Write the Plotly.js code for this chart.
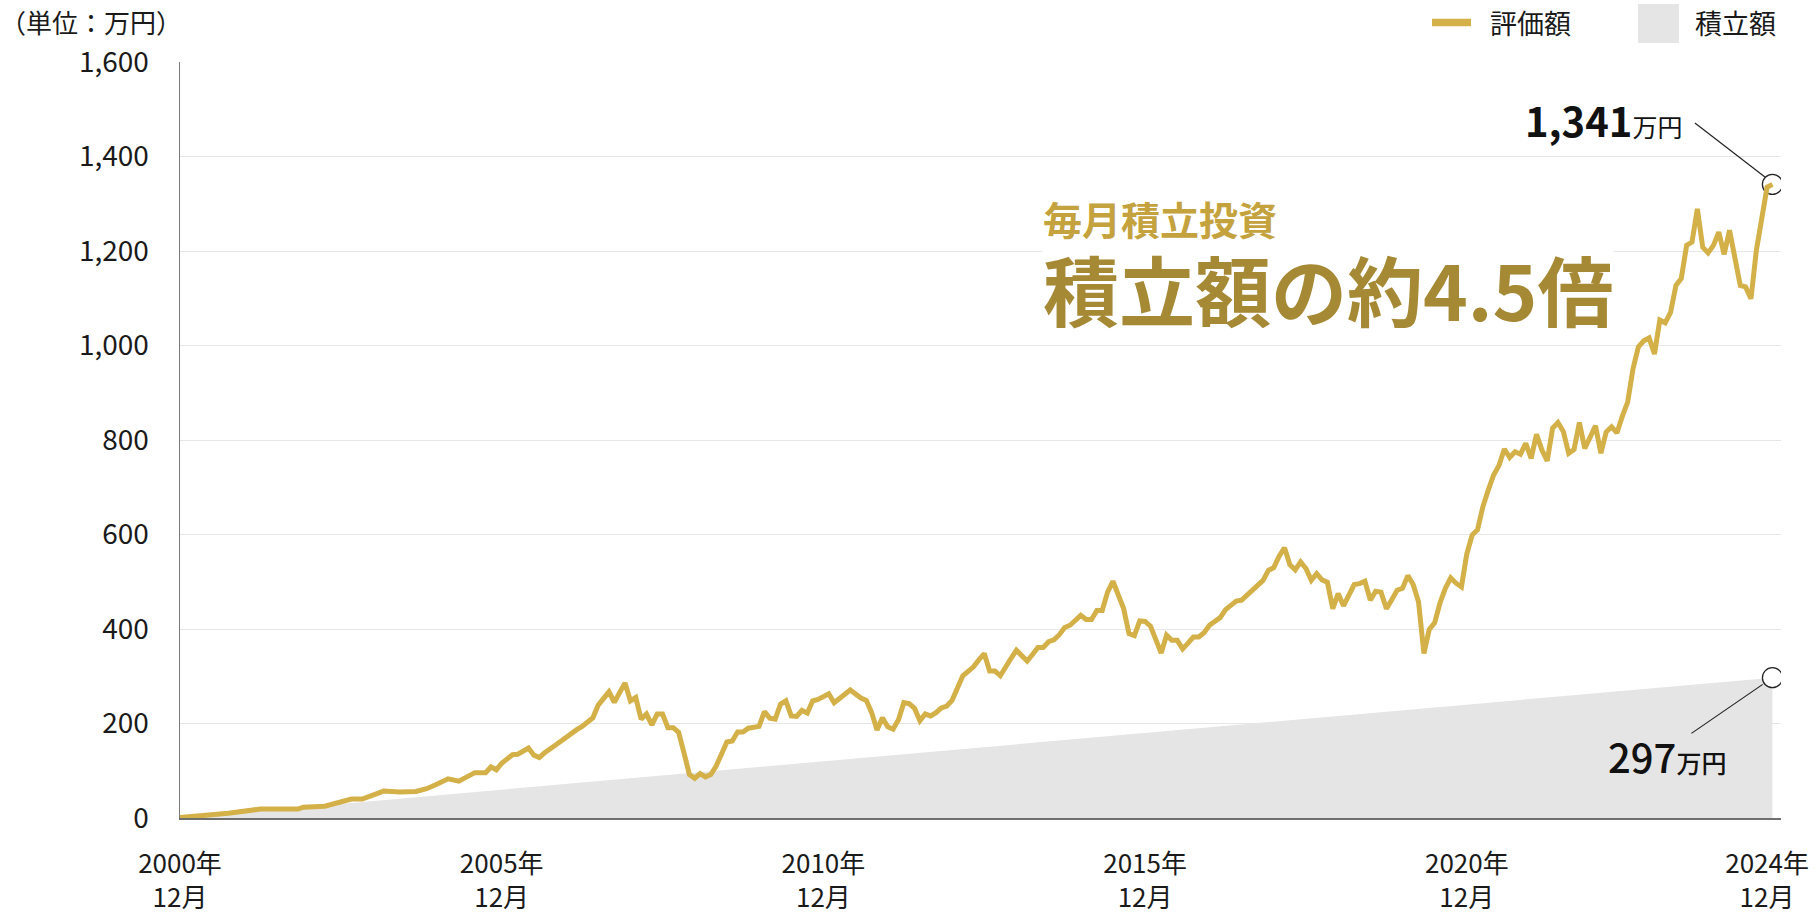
<!DOCTYPE html>
<html>
<head>
<meta charset="utf-8">
<script src="https://cdn.plot.ly/plotly-3.0.1.min.js"></script>
<style>
html,body{margin:0;padding:0;background:#fff;}
#chart{width:1816px;height:918px;}
</style>
</head>
<body>
<div id="chart"></div>
<script>
// Months elapsed since December 2000 (monthly investment of 1万円)
const valueMonths = [0,9,15,19,22,23,27,32,34,38,41,44,46,48,50,52,55,57,58,59,60,62,63,65,66,67,68,70,73,74,75,77,78,80,81,83,84,85,86,87,88,89,90,91,92,93,94,95,96,97,98,99,100,102,103,104,105,106,108,109,110,111,112,113,114,115,116,117,118,119,121,122,124,125,127,128,129,130,131,132,133,134,135,136,137,138,139,140,141,142,143,144,146,147,148,149,150,151,152,153,154,155,156,158,159,160,161,162,163,164,165,166,168,169,170,171,172,173,174,176,177,178,179,180,181,183,184,185,186,187,188,189,190,191,192,193,194,195,196,197,198,199,200,201,202,203,204,205,206,207,208,209,210,211,212,213,214,215,216,217,218,219,220,221,222,223,224,225,226,227,228,229,230,231,232,233,234,235,236,237,238,239,240,241,242,243,244,245,246,247,248,249,250,251,252,253,254,255,256,257,258,259,260,261,262,263,264,265,266,267,268,269,270,271,272,273,274,275,276,277,278,279,280,281,282,283,284,285,286,287,288,289,290,291,292,293,294,295,296,297];
// 評価額 (万円)
const valuation = [1,10,19,18,19,23,25,40,40,57,55,56,62,72,83,78,96,96,108,102,116,134,135,148,133,128,138,154,181,187,194,212,239,267,245,286,248,255,209,220,197,220,220,191,191,181,138,92,84,94,87,92,110,161,163,182,182,190,194,225,211,209,241,248,216,215,228,222,248,251,263,244,262,271,254,249,223,186,212,193,188,208,244,242,232,206,220,216,223,233,237,249,301,311,320,335,348,311,311,301,322,338,355,332,346,361,361,373,377,388,403,408,429,420,420,439,439,478,501,443,390,386,417,416,406,349,387,376,376,358,370,383,383,392,408,417,424,441,451,459,461,471,482,492,503,524,530,554,572,536,525,542,528,503,517,504,499,443,475,449,471,494,496,501,461,480,478,443,462,482,486,513,494,457,348,399,413,455,486,508,497,489,559,599,610,659,694,726,746,781,763,775,770,793,761,812,779,756,825,837,818,772,780,837,782,804,830,772,817,828,815,850,880,951,997,1010,1016,982,1054,1048,1070,1127,1142,1212,1219,1289,1208,1196,1212,1240,1193,1244,1189,1127,1124,1099,1201,1275,1335,1341];
// 積立額 (万円)
const contribMonths = [0, 297];
const contributions = [0, 297];
// Final values
const finalMonth = 297;
const finalValuation = 1341;
const finalContribution = 297;
// Axis ticks
const xTickMonths = [0, 60, 120, 180, 240, 296];
const xTickLabels = ['2000年<br>12月','2005年<br>12月','2010年<br>12月','2015年<br>12月','2020年<br>12月','2024年<br>12月'];
const yTicks = [0,200,400,600,800,1000,1200,1400,1600];

const FONT = '"Noto Sans CJK JP", "Noto Sans", sans-serif';
const GOLD = '#d4b048';
const GRAY = '#e5e5e5';

const traces = [
  {x: contribMonths, y: contributions, type:'scatter', mode:'lines', fill:'tozeroy',
   fillcolor: GRAY, line:{width:0, color:GRAY}, name:'積立額', hoverinfo:'skip', showlegend:false},
  {x:[finalMonth], y:[finalContribution], type:'scatter', mode:'markers',
   marker:{symbol:'circle', size:20, color:'#ffffff', line:{color:'#222', width:1.3}}, showlegend:false, hoverinfo:'skip'},
  {x:[finalMonth], y:[finalValuation], type:'scatter', mode:'markers',
   marker:{symbol:'circle', size:20, color:'#ffffff', line:{color:'#222', width:1.3}}, showlegend:false, hoverinfo:'skip'},
  {x: valueMonths, y: valuation, type:'scatter', mode:'lines', name:'評価額',
   line:{color:GOLD, width:5, shape:'linear'}, showlegend:false}
];

const W = 1816, H = 918, L = 180, R = 35, T = 62, B = 100;
const pw = W - L - R, ph = H - T - B;
const px = v => (v - L) / pw;
const py = v => (H - B - v) / ph;

const layout = {
  width: W, height: H,
  margin: {l: L, r: R, t: T, b: B, pad: 0},
  paper_bgcolor: '#fff', plot_bgcolor: '#fff',
  font: {family: FONT, color: '#1a1a1a', size: 28},
  showlegend: false,
  xaxis: {
    range: [0, 298.6], tickmode:'array', tickvals: xTickMonths, ticktext: xTickLabels,
    showgrid:false, zeroline:false, showline:true, linecolor:'#6f6f6f', linewidth:1.5,
    ticks:'', ticklabelstandoff: 22, ticklabeloverflow:'allow',
    tickfont:{family: FONT, size:26, color:'#1a1a1a'}, fixedrange:true
  },
  yaxis: {
    range: [0, 1600], tickmode:'array', tickvals: yTicks, tickformat:',d',
    showgrid:true, gridcolor:'#e6e6e6', gridwidth:1, zeroline:false,
    showline:true, linecolor:'#7a7a7a', linewidth:1.5,
    ticks:'', ticklabelstandoff: 24,
    tickfont:{family: FONT, size:28, color:'#1a1a1a'}, fixedrange:true
  },
  shapes: [
    // legend symbols
    {type:'line', xref:'paper', yref:'paper', x0:px(1432), x1:px(1471), y0:py(22.5), y1:py(22.5),
     line:{color:GOLD, width:7.5}},
    {type:'rect', xref:'paper', yref:'paper', x0:px(1638), x1:px(1679), y0:py(43), y1:py(4),
     fillcolor:GRAY, line:{width:0}},
    // leader lines
    {type:'line', xref:'x', yref:'y', xsizemode:'pixel', ysizemode:'pixel',
     xanchor: finalMonth, yanchor: finalValuation, x0:-7.5, y0:7.3, x1:-77.5, y1:61.3,
     line:{color:'#222', width:1.2}},
    {type:'line', xref:'x', yref:'y', xsizemode:'pixel', ysizemode:'pixel',
     xanchor: finalMonth, yanchor: finalContribution, x0:-9.7, y0:-6.7, x1:-81, y1:-55.7,
     line:{color:'#222', width:1.2}}
  ],
  annotations: [
    {xref:'paper', yref:'paper', x:px(-2), y:py(22), xanchor:'left', yanchor:'middle', showarrow:false,
     text:'（単位：万円）', font:{family:FONT, size:26, color:'#1a1a1a'}},
    {xref:'paper', yref:'paper', x:px(1488), y:py(22.5), xanchor:'left', yanchor:'middle', showarrow:false,
     text:'評価額', font:{family:FONT, size:27, color:'#1a1a1a'}},
    {xref:'paper', yref:'paper', x:px(1693), y:py(22.5), xanchor:'left', yanchor:'middle', showarrow:false,
     text:'積立額', font:{family:FONT, size:27, color:'#1a1a1a'}},
    {xref:'paper', yref:'paper', x:px(1042), y:py(266), xanchor:'left', yanchor:'middle', showarrow:false,
     align:'left',
     text:'<span style="font-size:39px;color:#c4a23e"><b>毎月積立投資</b></span><br>' +
          '<span style="font-size:76px"><b>積立額の約4.5倍</b></span>',
     font:{family:FONT, size:66, color:'#a68935'},
     bgcolor:'#ffffff', borderpad:0},
    {xref:'x', yref:'y', x: finalMonth, y: finalValuation, xanchor:'right', yanchor:'middle',
     xshift:-88, yshift:64, showarrow:false,
     text:'<b>1,341</b><span style="font-size:25px">万円</span>', font:{family:FONT, size:40, color:'#111'}},
    {xref:'x', yref:'y', x: finalMonth, y: finalContribution, xanchor:'right', yanchor:'middle',
     xshift:-44, yshift:-78, showarrow:false,
     text:'297<span style="font-size:25px">万円</span>', font:{family:FONT, size:40, color:'#111', weight:500}}
  ]
};

Plotly.newPlot('chart', traces, layout, {displayModeBar:false, staticPlot:true});
</script>
</body>
</html>
